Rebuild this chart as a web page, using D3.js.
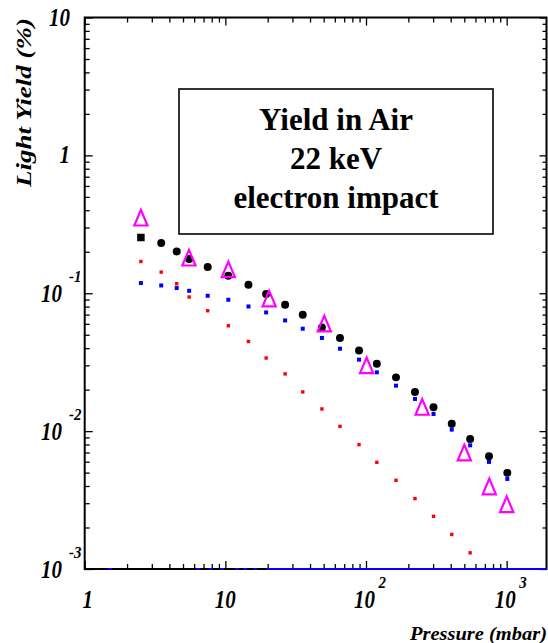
<!DOCTYPE html>
<html>
<head>
<meta charset="utf-8">
<script src="https://cdn.jsdelivr.net/npm/d3@7"></script>
<style>
  html, body { margin: 0; padding: 0; background: #fff; }
  svg { display: block; }
  text { font-family: "Liberation Serif", "Times New Roman", serif; }
</style>
</head>
<body>
<svg id="chart" width="548" height="643"></svg>
<script>
// ---------- data ----------
const pressure = [2.51, 3.5, 4.51, 5.53, 7.49, 10.5, 14.6, 19.5, 26.6, 35.5, 48.6,
                  65.3, 89.2, 119.4, 163.4, 223, 302, 407, 550, 749, 1011];
const yieldBlack = [0.2537, 0.2311, 0.2009, 0.1769, 0.1548, 0.1339, 0.1152, 0.0987, 0.0825, 0.0699, 0.0565,
                    0.0474, 0.0385, 0.0308, 0.02454, 0.01924, 0.01488, 0.01133, 0.00878, 0.00657, 0.00498];
const yieldBlue = [0.1186, 0.1139, 0.1091, 0.1042, 0.0959, 0.0897, 0.0802, 0.0726, 0.0635, 0.0553, 0.0474,
                   0.0396, 0.0330, 0.0267, 0.02137, 0.01711, 0.01332, 0.01025, 0.00789, 0.00598, 0.00450];
const yieldRed = [0.1700, 0.1424, 0.1172, 0.0939, 0.0747, 0.0581, 0.0447, 0.0339, 0.0260, 0.01924, 0.01448,
                  0.01083, 0.00798, 0.00594, 0.00440, 0.00324, 0.00241, 0.00178, 0.00131];
const pressureTri = [2.51, 5.51, 10.5, 20.5, 50.5, 101, 251, 500, 753, 1001];
const yieldTri = [0.3507, 0.1799, 0.1480, 0.0908, 0.0598, 0.0298, 0.01488, 0.00695, 0.00394, 0.00293];
// blue points lying on the lower edge of the frame
const blueFloorP = [1.51, 6.39, 7.9, 9.46, 12.1, 13.8, 16.3];
const blueFloorLine = [19.5, 1920];

const xDomain = [1, 1920];
const yDomain = [1e-3, 10];
const xTickLabels = [{v: 1, base: "1", exp: ""}, {v: 10, base: "10", exp: ""},
                     {v: 100, base: "10", exp: "2"}, {v: 1000, base: "10", exp: "3"}];
const yTickLabels = [{v: 10, base: "10", exp: ""}, {v: 1, base: "1", exp: ""},
                     {v: 0.1, base: "10", exp: "-1"}, {v: 0.01, base: "10", exp: "-2"},
                     {v: 0.001, base: "10", exp: "-3"}];
const titleLines = ["Yield in Air", "22 keV", "electron impact"];
const xTitle = "Pressure (mbar)";
const yTitle = "Light Yield (%)";

// ---------- scales ----------
const L = 84.7, R = 546.5, T = 17.5, B = 569;
const x = d3.scaleLog().domain(xDomain).range([L, R]);
const y = d3.scaleLog().domain(yDomain).range([B, T]);

const svg = d3.select("#chart");

// ---------- ticks ----------
function minors(dom) {
  const out = [];
  for (let e = Math.floor(Math.log10(dom[0])); e <= Math.ceil(Math.log10(dom[1])); e++) {
    for (let k = 2; k <= 9; k++) {
      const v = k * Math.pow(10, e);
      if (v > dom[0] && v < dom[1]) out.push(v);
    }
  }
  return out;
}
function majors(dom) {
  const out = [];
  for (let e = Math.ceil(Math.log10(dom[0])); Math.pow(10, e) <= dom[1]; e++) out.push(Math.pow(10, e));
  return out;
}
const xMaj = majors(xDomain), xMin = minors(xDomain);
const yMaj = majors(yDomain), yMin = minors(yDomain);

function drawAxis(gen, tx, ty) {
  const g = svg.append("g").attr("transform", `translate(${tx},${ty})`).call(gen);
  g.select(".domain").remove();
  g.selectAll(".tick line").attr("stroke", "#000").attr("stroke-width", 1.3);
  g.selectAll(".tick text").remove();
}
drawAxis(d3.axisBottom(x).tickValues(xMaj).tickSize(-8).tickFormat(""), 0, B);
drawAxis(d3.axisBottom(x).tickValues(xMin).tickSize(-5).tickFormat(""), 0, B);
drawAxis(d3.axisTop(x).tickValues(xMaj).tickSize(-8).tickFormat(""), 0, T);
drawAxis(d3.axisTop(x).tickValues(xMin).tickSize(-5).tickFormat(""), 0, T);
drawAxis(d3.axisLeft(y).tickValues(yMaj).tickSize(-8).tickFormat(""), L, 0);
drawAxis(d3.axisLeft(y).tickValues(yMin).tickSize(-5).tickFormat(""), L, 0);
drawAxis(d3.axisRight(y).tickValues(yMaj).tickSize(-7).tickFormat(""), R, 0);
drawAxis(d3.axisRight(y).tickValues(yMin).tickSize(-4).tickFormat(""), R, 0);

// frame
svg.append("rect").attr("x", L).attr("y", T).attr("width", R - L).attr("height", B - T)
  .attr("fill", "none").attr("stroke", "#000").attr("stroke-width", 2);

// blue data on the floor
svg.append("line").attr("x1", x(blueFloorLine[0])).attr("x2", x(blueFloorLine[1]))
  .attr("y1", y(yDomain[0])).attr("y2", y(yDomain[0]))
  .attr("stroke", "#0000ff").attr("stroke-width", 2);
svg.selectAll(".bfloor").data(blueFloorP).join("rect").attr("class", "bfloor")
  .attr("x", d => x(d) - 2).attr("y", y(yDomain[0]) - 1).attr("width", 4).attr("height", 2)
  .attr("fill", "#0000ff");

// ---------- tick labels ----------
const lab = svg.append("g").attr("font-weight", "bold").attr("font-style", "italic");
function tlabel(px, py, anchor, size, txt) {
  lab.append("text").attr("transform", `translate(${px},${py}) scale(1,1.15)`)
    .attr("text-anchor", anchor).attr("font-size", size).text(txt);
}
xTickLabels.forEach(d => {
  const cx = x(d.v) + (d.exp ? -1.5 : (d.base === "1" ? 3 : 0));
  tlabel(cx, 608, "middle", 21, d.base);
  if (d.exp) tlabel(cx + 14, 588, "start", 15, d.exp);
});
yTickLabels.forEach(d => {
  const py = y(d.v);
  if (d.exp) {
    tlabel(62, py + 9, "end", 21, d.base);
    tlabel(69, py - 11.5, "start", 15, d.exp);
  } else {
    tlabel(70, py + 8, "end", 21, d.base);
  }
});

// axis titles
lab.append("text").attr("x", 547).attr("y", 640).attr("text-anchor", "end")
  .attr("font-size", 19).attr("textLength", 137).attr("lengthAdjust", "spacingAndGlyphs")
  .text(xTitle);
lab.append("text").attr("transform", "translate(31,102.5) rotate(-90)").attr("text-anchor", "middle")
  .attr("font-size", 21).attr("textLength", 169).attr("lengthAdjust", "spacingAndGlyphs")
  .text(yTitle);

// ---------- title box ----------
svg.append("rect").attr("x", 179).attr("y", 89).attr("width", 314).attr("height", 145)
  .attr("fill", "#fff").attr("stroke", "#000").attr("stroke-width", 1.6);
const baselines = [130, 168.5, 208];
titleLines.forEach((t, i) => {
  svg.append("text").attr("x", 336).attr("y", baselines[i]).attr("text-anchor", "middle")
    .attr("font-size", 31).attr("font-weight", "bold").text(t);
});

// ---------- data marks ----------
const red = pressure.slice(0, yieldRed.length).map((p, i) => [p, yieldRed[i]]);
svg.selectAll(".red").data(red).join("rect").attr("class", "red")
  .attr("x", d => x(d[0]) - 1.7).attr("y", d => y(d[1]) - 1.7)
  .attr("width", 3.4).attr("height", 3.4).attr("fill", "#ff0000");

const blue = pressure.map((p, i) => [p, yieldBlue[i]]);
svg.selectAll(".blue").data(blue).join("rect").attr("class", "blue")
  .attr("x", d => x(d[0]) - 2).attr("y", d => y(d[1]) - 2)
  .attr("width", 4).attr("height", 4).attr("fill", "#0000ff");

const black = pressure.map((p, i) => [p, yieldBlack[i]]);
svg.selectAll(".blk").data(black).join(enter => enter.append("path"))
  .attr("class", "blk")
  .attr("transform", d => `translate(${x(d[0])},${y(d[1])})`)
  .attr("d", (d, i) => i === 0
      ? d3.symbol().type(d3.symbolSquare).size(56)()
      : d3.symbol().type(d3.symbolCircle).size(50)())
  .attr("fill", "#000");

const tri = pressureTri.map((p, i) => [p, yieldTri[i]]);
svg.selectAll(".tri").data(tri).join("path").attr("class", "tri")
  .attr("transform", d => `translate(${x(d[0])},${y(d[1])})`)
  .attr("d", "M0,-8.2 L6.6,7.4 L-6.6,7.4 Z")
  .attr("fill", "none").attr("stroke", "#ff00ff").attr("stroke-width", 2.2)
  .attr("stroke-linejoin", "miter");
</script>
</body>
</html>
